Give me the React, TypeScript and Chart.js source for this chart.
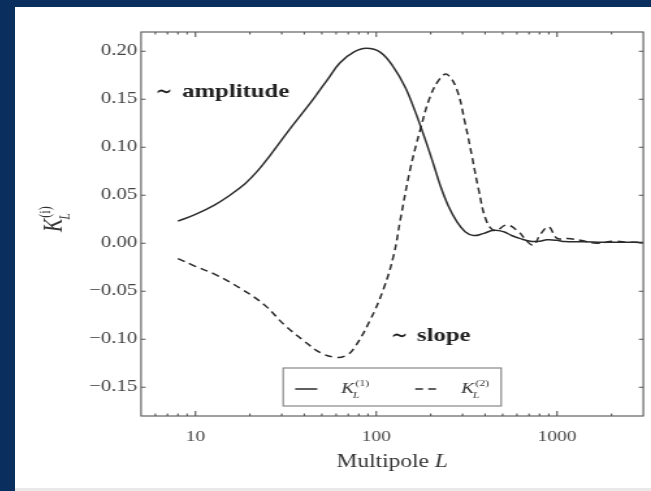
import React, { useEffect, useRef } from "react";
import { Chart, registerables } from "chart.js";

Chart.register(...registerables);

// ---- data ----
const L1 = [8, 10, 12.8, 15.5, 18.8, 22, 26, 33, 40, 46, 54, 63, 75, 88, 105, 125, 145, 165, 185, 205, 226, 250, 280, 310, 345, 390, 446, 506, 560, 620, 711, 800, 879, 1000, 1100, 1400, 1800, 2300, 3000];
const K1 = [0.023, 0.030, 0.040, 0.050, 0.062, 0.075, 0.092, 0.118, 0.138, 0.153, 0.171, 0.188, 0.199, 0.203, 0.199, 0.183, 0.162, 0.136, 0.110, 0.085, 0.060, 0.039, 0.022, 0.012, 0.008, 0.010, 0.0135, 0.012, 0.008, 0.005, 0.002, 0.002, 0.0035, 0.003, 0.0017, 0.0015, 0.001, 0.001, 0.0008];

const L2 = [8, 9.7, 13, 17.7, 24, 31, 40, 49, 60, 68, 75, 92, 110, 125, 136, 154, 175, 199, 226, 246, 279, 310, 338, 368, 409, 455, 527, 612, 681, 741, 807, 898, 1000, 1135, 1345, 1663, 2055, 2500, 3000];
const K2 = [-0.016, -0.023, -0.033, -0.047, -0.064, -0.085, -0.102, -0.114, -0.119, -0.117, -0.110, -0.081, -0.047, -0.012, 0.025, 0.077, 0.118, 0.153, 0.172, 0.176, 0.160, 0.125, 0.091, 0.056, 0.022, 0.013, 0.019, 0.012, 0.002, -0.002, 0.009, 0.017, 0.005, 0.005, 0.003, 0.0, 0.002, 0.001, 0.001];

const yTicks = [-0.15, -0.1, -0.05, 0, 0.05, 0.1, 0.15, 0.2];
const xMajor = [10, 100, 1000];
const xTickValues = [5, 6, 7, 8, 9, 10, 20, 30, 40, 50, 60, 70, 80, 90, 100, 200, 300, 400, 500, 600, 700, 800, 900, 1000, 2000, 3000];
const xMin = 5;
const xMax = 3000;
const yMin = -0.18;
const yMax = 0.22;

const seriesSup = ["(1)", "(2)"];
const yTitleSup = "(i)";
const subVar = "L";
const xTitleText = "Multipole ";
const xTitleVar = "L";
const amplitudeText = "amplitude";
const slopeText = "slope";
const tildeText = "\u223C";

// ---- styling ----
const NAVY = "#0a2f5f";
const INK = "#2b2b2b";
const SERIF = "'Liberation Serif', 'DejaVu Serif', serif";
const CW = 489; // internal canvas width (stretched to 636 px)
const CH = 481;

function drawKLabel(ctx: CanvasRenderingContext2D, x: number, y: number, size: number, sup: string) {
  ctx.font = `italic ${size}px ${SERIF}`;
  ctx.textAlign = "left";
  ctx.textBaseline = "alphabetic";
  ctx.fillText("K", x, y);
  const w = ctx.measureText("K").width;
  const small = Math.round(size * 0.62);
  ctx.font = `${small}px ${SERIF}`;
  ctx.fillText(sup, x + w + 1, y - size * 0.45);
  ctx.font = `italic ${small}px ${SERIF}`;
  ctx.fillText(subVar, x + w - 1, y + size * 0.3);
}

const decoPlugin = {
  id: "deco",
  afterDraw(chart: any) {
    const { ctx, chartArea: a, scales } = chart;
    const xs = scales.x;
    const ys = scales.y;
    ctx.save();
    ctx.strokeStyle = "#555";
    ctx.lineWidth = 1.1;
    ctx.strokeRect(a.left, a.top, a.right - a.left, a.bottom - a.top);

    ctx.beginPath();
    for (const v of xTickValues) {
      const px = xs.getPixelForValue(v);
      if (px <= a.left + 0.5 || px >= a.right - 0.5) continue;
      const len = xMajor.includes(v) ? 5 : 2.5;
      ctx.moveTo(px, a.bottom);
      ctx.lineTo(px, a.bottom - len);
      ctx.moveTo(px, a.top);
      ctx.lineTo(px, a.top + len);
    }
    for (const v of yTicks) {
      const py = ys.getPixelForValue(v);
      ctx.moveTo(a.left, py);
      ctx.lineTo(a.left + 3.5, py);
      ctx.moveTo(a.right, py);
      ctx.lineTo(a.right - 3.5, py);
    }
    ctx.stroke();

    // annotations
    ctx.fillStyle = "#222";
    ctx.textBaseline = "alphabetic";
    ctx.textAlign = "left";
    ctx.font = `24px 'DejaVu Sans', sans-serif`;
    ctx.fillText(tildeText, 108, 92, 13);
    ctx.fillText(tildeText, 289, 336, 13);
    ctx.font = `bold 19px ${SERIF}`;
    ctx.fillText(amplitudeText, 128.5, 90);
    ctx.fillText(slopeText, 309, 334);

    // legend
    const cx = (a.left + a.right) / 2;
    const bw = 167.6;
    const bh = 38;
    const bx = cx - bw / 2;
    const by = a.bottom - 10 - bh;
    ctx.fillStyle = "#fff";
    ctx.fillRect(bx, by, bw, bh);
    ctx.strokeStyle = "#888";
    ctx.lineWidth = 1.2;
    ctx.strokeRect(bx, by, bw, bh);
    const ds = chart.data.datasets;
    const entries = [
      { x0: bx + 9.2, tx: bx + 44.5 },
      { x0: bx + 101.5, tx: bx + 136.8 },
    ];
    entries.forEach((e, i) => {
      const d = ds[i];
      ctx.strokeStyle = d.borderColor;
      ctx.lineWidth = d.borderWidth;
      ctx.setLineDash(d.borderDash || []);
      ctx.beginPath();
      ctx.moveTo(e.x0, by + 21);
      ctx.lineTo(e.x0 + 17, by + 21);
      ctx.stroke();
      ctx.setLineDash([]);
      ctx.fillStyle = "#333";
      drawKLabel(ctx, e.tx, by + 25, 15, seriesSup[i]);
    });

    // x title
    ctx.fillStyle = "#333";
    ctx.font = `18px ${SERIF}`;
    const w1 = ctx.measureText(xTitleText).width;
    ctx.font = `italic 18px ${SERIF}`;
    const w2 = ctx.measureText(xTitleVar).width;
    const sx = cx - (w1 + w2) / 2;
    ctx.font = `18px ${SERIF}`;
    ctx.fillText(xTitleText, sx, 460);
    ctx.font = `italic 18px ${SERIF}`;
    ctx.fillText(xTitleVar, sx + w1, 460);

    // y title (rotated)
    const cy = (a.top + a.bottom) / 2;
    ctx.translate(35.5, cy + 8);
    ctx.rotate(-Math.PI / 2);
    ctx.fillStyle = "#333";
    drawKLabel(ctx, 0, 0, 20, yTitleSup);
    ctx.restore();
  },
};

export default function App() {
  const ref = useRef<HTMLCanvasElement | null>(null);
  useEffect(() => {
    if (!ref.current) return;
    const chart = new Chart(ref.current, {
      type: "line",
      data: {
        datasets: [
          {
            label: "K1",
            data: L1.map((x, i) => ({ x, y: K1[i] })),
            borderColor: INK,
            borderWidth: 1.5,
            pointRadius: 0,
            tension: 0.4,
            fill: false,
          },
          {
            label: "K2",
            data: L2.map((x, i) => ({ x, y: K2[i] })),
            borderColor: INK,
            borderWidth: 1.5,
            borderDash: [6, 4],
            pointRadius: 0,
            tension: 0.4,
            fill: false,
          },
        ],
      },
      options: {
        responsive: false,
        animation: false,
        devicePixelRatio: 1,
        layout: { padding: { left: 0, top: 25, right: 5.9, bottom: 0 } },
        plugins: { legend: { display: false }, tooltip: { enabled: false } },
        scales: {
          x: {
            type: "logarithmic",
            min: xMin,
            max: xMax,
            grid: { display: false, drawTicks: false },
            border: { display: false },
            afterBuildTicks: (s: any) => {
              s.ticks = xTickValues.map((v) => ({ value: v, major: xMajor.includes(v) }));
            },
            afterFit: (s: any) => {
              s.height = 72;
              s.paddingLeft = 0;
              s.paddingRight = 0;
            },
            ticks: {
              autoSkip: false,
              maxRotation: 0,
              minRotation: 0,
              padding: 12,
              color: "#444",
              font: { family: SERIF, size: 15 },
              callback: (v: any) => (xMajor.includes(Number(v)) ? String(v) : ""),
            },
          },
          y: {
            min: yMin,
            max: yMax,
            grid: { display: false, drawTicks: false },
            border: { display: false },
            afterBuildTicks: (s: any) => {
              s.ticks = yTicks.map((v) => ({ value: v }));
            },
            afterFit: (s: any) => {
              s.width = 96.9;
            },
            ticks: {
              padding: 3,
              color: "#444",
              font: { family: SERIF, size: 16 },
              callback: (v: any) => Number(v).toFixed(2).replace("-", "\u2212"),
            },
          },
        },
      } as any,
      plugins: [decoPlugin],
    });
    return () => chart.destroy();
  }, []);

  return (
    <div style={{ position: "fixed", left: 0, top: 0, width: 651, height: 491, background: NAVY, overflow: "hidden" }}>
      <div style={{ position: "absolute", left: 15, top: 7, width: 636, height: 481, background: "#fff" }}>
        <canvas ref={ref} width={CW} height={CH} style={{ width: "636px", height: "481px", display: "block" }} />
      </div>
      <div style={{ position: "absolute", left: 15, top: 488, width: 636, height: 3, background: "#e9e9e9" }} />
    </div>
  );
}
